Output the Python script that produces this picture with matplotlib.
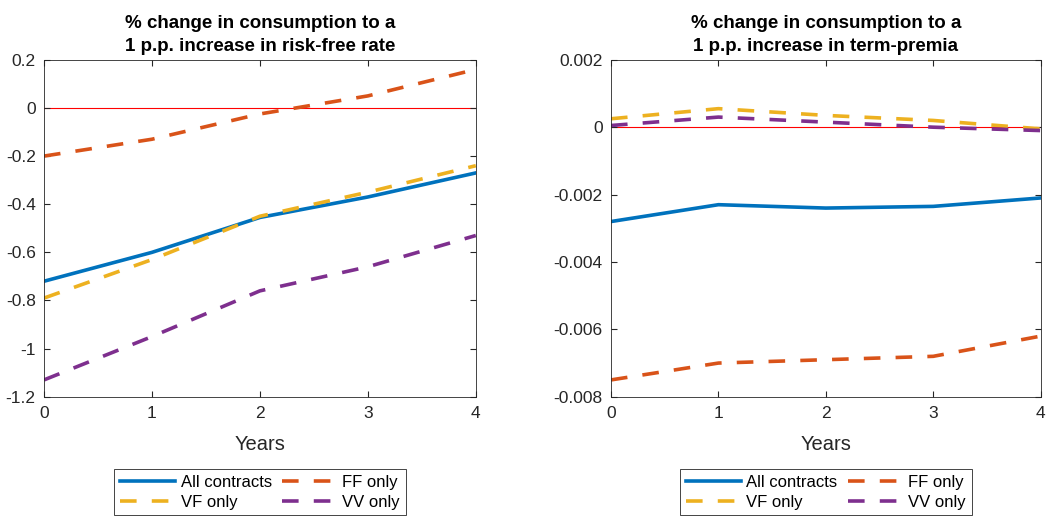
import numpy as np
import matplotlib
matplotlib.use("Agg")
from matplotlib import pyplot as plt
from matplotlib.ticker import FuncFormatter

plt.rcParams['font.family'] = ['Liberation Sans', 'DejaVu Sans']
plt.rcParams['axes.unicode_minus'] = False

years = [0, 1, 2, 3, 4]
series_names = ['All contracts', 'VF only', 'FF only', 'VV only']

# risk-free rate shock
rf_all = [-0.72, -0.60, -0.455, -0.37, -0.27]
rf_vf = [-0.79, -0.63, -0.45, -0.35, -0.24]
rf_ff = [-0.20, -0.13, -0.025, 0.05, 0.16]
rf_vv = [-1.13, -0.95, -0.76, -0.66, -0.53]

# term-premia shock
tp_all = [-0.0028, -0.0023, -0.0024, -0.00235, -0.0021]
tp_vf = [0.00025, 0.00055, 0.00035, 0.0002, -0.00005]
tp_ff = [-0.0075, -0.0070, -0.0069, -0.0068, -0.0062]
tp_vv = [0.00005, 0.0003, 0.00015, 0.0, -0.0001]

titles = ['% change in consumption to a\n1 p.p. increase in risk-free rate',
          '% change in consumption to a\n1 p.p. increase in term-premia']

colors = ['#0072BD', '#EDB120', '#D95319', '#7E2F8E']
styles = ['-', '--', '--', '--']


def fmt(v, p):
    v = round(v, 6) + 0.0
    if v == 0:
        return '0'
    return '%g' % v


fig = plt.figure(figsize=(10.48, 5.2), dpi=100)
ax1 = fig.add_axes([0.042, 0.237, 0.412, 0.648])
ax2 = fig.add_axes([0.583, 0.237, 0.410, 0.648])

panels = [
    (ax1, [rf_all, rf_vf, rf_ff, rf_vv], (-1.2, 0.2), np.arange(-1.2, 0.21, 0.2)),
    (ax2, [tp_all, tp_vf, tp_ff, tp_vv], (-0.008, 0.002), np.arange(-0.008, 0.0021, 0.002)),
]

for k, (ax, data, ylim, yt) in enumerate(panels):
    ax.axhline(0, color='red', lw=0.8, zorder=1)
    for vals, name, c, ls in zip(data, series_names, colors, styles):
        if ls == '--':
            ax.plot(years, vals, color=c, lw=2.6, label=name, dashes=(4.6, 4.2))
        else:
            ax.plot(years, vals, color=c, lw=2.6, label=name)
    ax.set_xlim(0, 4)
    ax.set_ylim(*ylim)
    ax.set_xticks(years)
    ax.set_yticks(yt)
    ax.yaxis.set_major_formatter(FuncFormatter(fmt))
    ax.tick_params(direction='in', top=True, right=True, labelsize=12.5,
                   colors='#262626', length=4, pad=6)
    ax.tick_params(axis='x', pad=7)
    for s in ax.spines.values():
        s.set_color('#262626')
        s.set_linewidth(0.6)
    ax.set_title(titles[k], fontsize=13.5, fontweight='bold', pad=6,
                 linespacing=1.5)
    ax.set_xlabel('Years', fontsize=14.5, color='#262626', labelpad=10)
    leg = ax.legend(ncol=2, loc='center', bbox_to_anchor=(0.5, -0.283),
                    fontsize=12, handlelength=3.3, columnspacing=0.6,
                    handletextpad=0.35, labelspacing=0.3, borderpad=0.35,
                    borderaxespad=0, fancybox=False, edgecolor='#262626',
                    framealpha=1)
    leg.get_frame().set_linewidth(0.6)

fig.savefig('out.png', dpi=100)
